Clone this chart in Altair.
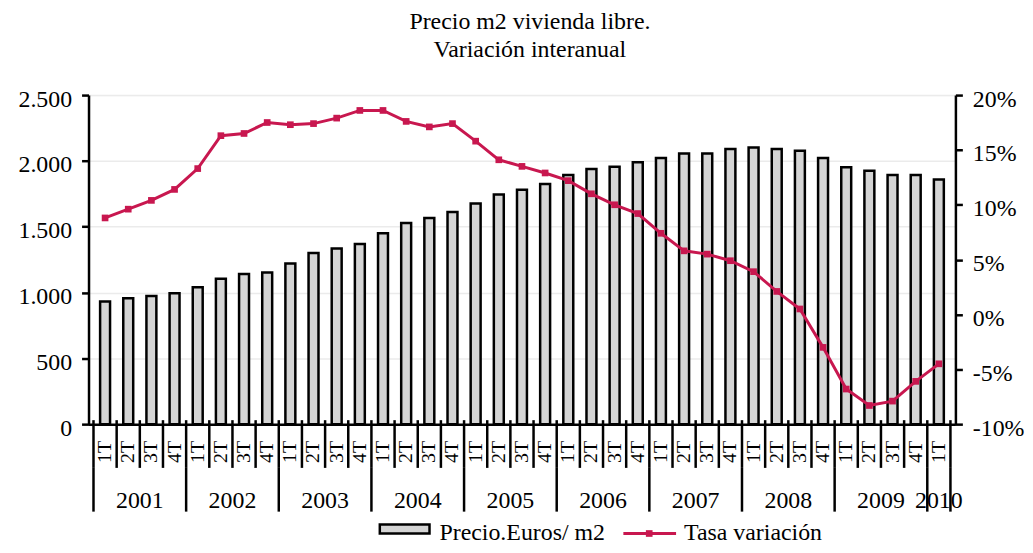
import altair as alt
import pandas as pd

FONT = "Liberation Serif"
RED = "#c8174f"
GRAY = "#d4d4d4"

quarters = ["1T", "2T", "3T", "4T"] * 9 + ["1T"]
years = ["2001", "2002", "2003", "2004", "2005", "2006", "2007", "2008", "2009", "2010"]
year_quarters = [4, 4, 4, 4, 4, 4, 4, 4, 4, 1]
precio = [931, 957, 974, 995, 1040, 1105, 1140, 1153, 1221, 1301, 1334, 1369,
          1450, 1528, 1566, 1611, 1677, 1745, 1780, 1825, 1893, 1939, 1956, 1989,
          2022, 2057, 2057, 2090, 2102, 2090, 2077, 2022, 1951, 1926, 1893, 1893, 1858]
tasa = [8.8, 9.6, 10.4, 11.4, 13.3, 16.3, 16.5, 17.5, 17.3, 17.4, 17.9, 18.6,
        18.6, 17.6, 17.1, 17.4, 15.8, 14.1, 13.5, 12.9, 12.2, 11.0, 10.0, 9.2,
        7.4, 5.8, 5.5, 4.9, 3.9, 2.1, 0.5, -3.0, -6.8, -8.3, -7.9, -6.1, -4.5]

n = len(precio)
df = pd.DataFrame({"i": range(n), "trim": quarters, "precio": precio, "tasa": tasa})
df["pos"] = df["i"] + 0.5

qb = pd.DataFrame({"b": list(range(n + 1))})
ybounds = [0]
for c in year_quarters:
    ybounds.append(ybounds[-1] + c)
yb = pd.DataFrame({"b": ybounds})
ylab = pd.DataFrame({"year": years,
                     "c": [(ybounds[k] + ybounds[k + 1]) / 2 for k in range(len(years))]})

xscale = alt.Scale(domain=[0, n], nice=False, zero=False)
xaxis = alt.Axis(labels=False, ticks=False, grid=False, domain=True,
                 domainColor="black", domainWidth=2.5, title=None)


def xenc(field):
    return alt.X(field, scale=xscale, axis=xaxis)


base = alt.Chart(df)

bars = base.mark_bar(orient="vertical", size=10, fill=GRAY, stroke="black",
                     strokeWidth=2.5).encode(
    x=xenc("pos:Q"),
    y=alt.Y("precio:Q", scale=alt.Scale(domain=[0, 2500], nice=False),
            axis=alt.Axis(orient="left", values=[0, 500, 1000, 1500, 2000, 2500],
                          labelExpr="replace(format(datum.value, ',d'), ',', '.')",
                          title=None, grid=True, gridColor="#ebebeb", gridWidth=1.5,
                          domainColor="black", domainWidth=2.5, tickColor="black",
                          tickWidth=2.5, tickSize=7, labelPadding=10, labelOffset=4,
                          labelFont=FONT, labelFontSize=24, labelColor="black"))
)

line = base.mark_line(color=RED, strokeWidth=3,
                      point=alt.OverlayMarkDef(shape="square", size=45, filled=True,
                                               color=RED, opacity=1)).encode(
    x=xenc("pos:Q"),
    y=alt.Y("tasa:Q", scale=alt.Scale(domain=[-10, 20], nice=False),
            axis=alt.Axis(orient="right", values=[-10, -5, 0, 5, 10, 15, 20],
                          labelExpr="datum.value + '%'", title=None, grid=False,
                          domainColor="black", domainWidth=2.5, tickColor="black",
                          tickWidth=2.5, tickSize=7, labelPadding=10, labelOffset=4,
                          labelFont=FONT, labelFontSize=24, labelColor="black"))
)

qrules = alt.Chart(qb).mark_rule(color="black", strokeWidth=2.5).encode(
    x=xenc("b:Q"), y=alt.value(327), y2=alt.value(375))
yrules = alt.Chart(yb).mark_rule(color="black", strokeWidth=2.5).encode(
    x=xenc("b:Q"), y=alt.value(375), y2=alt.value(419))

qlabels = base.mark_text(angle=270, font=FONT, fontSize=20, align="center",
                         baseline="middle", color="black").encode(
    x=xenc("pos:Q"), y=alt.value(359), text="trim:N")
ylabels = alt.Chart(ylab).mark_text(font=FONT, fontSize=24, align="center",
                                    baseline="middle", color="black").encode(
    x=xenc("c:Q"), y=alt.value(408), text="year:N")

one = alt.Chart(pd.DataFrame({"k": [0]}))
leg_box = one.mark_rect(fill=GRAY, stroke="black", strokeWidth=2.5).encode(
    x=alt.value(293), x2=alt.value(343), y=alt.value(432), y2=alt.value(441))
leg_t1 = one.mark_text(text="Precio.Euros/ m2", font=FONT, fontSize=24, align="left",
                       baseline="middle", color="black").encode(
    x=alt.value(353), y=alt.value(441))
leg_line = one.mark_rule(color=RED, strokeWidth=3).encode(
    x=alt.value(538), x2=alt.value(591), y=alt.value(441))
leg_pt = one.mark_point(shape="square", filled=True, size=45, color=RED, opacity=1).encode(
    x=alt.value(564), y=alt.value(441))
leg_t2 = one.mark_text(text="Tasa variación", font=FONT, fontSize=24, align="left",
                       baseline="middle", color="black").encode(
    x=alt.value(599), y=alt.value(441))

chart = alt.layer(
    bars, line, qrules, yrules, qlabels, ylabels,
    leg_box, leg_t1, leg_line, leg_pt, leg_t2
).resolve_scale(y="independent").properties(
    width=872, height=331,
    title=alt.TitleParams(["Precio m2 vivienda libre.", "Variación interanual"],
                          font=FONT, fontSize=24, fontWeight="normal", lineHeight=28,
                          offset=25, dx=8, anchor="middle", color="black"),
    autosize=alt.AutoSizeParams(type="none"),
    padding={"left": 81, "top": 86, "right": 70, "bottom": 126},
).configure_view(stroke=None).configure(background="white")

chart.save("out.html", embed_options={"renderer": "svg", "actions": False})
